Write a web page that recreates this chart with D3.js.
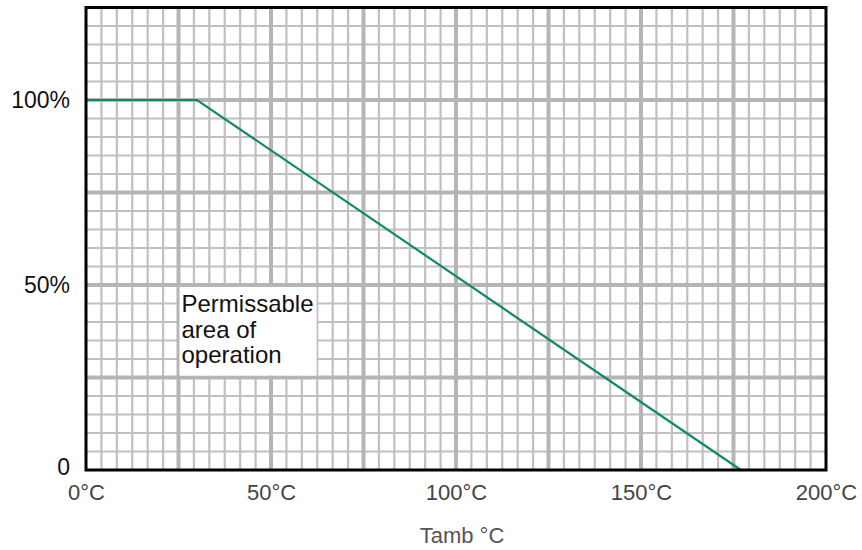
<!DOCTYPE html>
<html><head><meta charset="utf-8">
<script src="https://cdn.jsdelivr.net/npm/d3@7/dist/d3.min.js"></script>
<style>body{margin:0;background:#fff;} svg{display:block;font-family:"Liberation Sans",Arial,sans-serif;}</style>
</head><body>
<svg id="c" width="862" height="550"></svg>
<script>
const curveT = [0, 30, 177];          // °C
const curveP = [100, 100, 0];         // % of rated power
const xTicks = [0, 50, 100, 150, 200];
const xTickLabels = ["0°C", "50°C", "100°C", "150°C", "200°C"];
const yTicks = [0, 50, 100];
const yTickLabels = ["0", "50%", "100%"];
const xMajor = [25, 50, 75, 100, 125, 150, 175];
const yMajor = [25, 50, 75, 100];
const xMinorStep = 25 / 6;
const yMinorStep = 5;
const xTitle = "Tamb °C";
const noteLines = ["Permissable", "area of", "operation"];

const svg = d3.select("#c");
const x = d3.scaleLinear().domain([0, 200]).range([86, 826]);
const y = d3.scaleLinear().domain([0, 125]).range([470, 7.5]);

const xMinor = d3.range(0, 200 + 1e-6, xMinorStep).filter(v => v > 0 && v < 200);
const yMinor = d3.range(0, 125 + 1e-6, yMinorStep).filter(v => v > 0 && v < 125);

const g = svg.append("g");
g.selectAll(".vx").data(xMinor).join("line")
  .attr("x1", d => x(d)).attr("x2", d => x(d)).attr("y1", y(0)).attr("y2", y(125))
  .attr("stroke", "#c0c0c0").attr("stroke-width", 2.2);
g.selectAll(".hy").data(yMinor).join("line")
  .attr("y1", d => y(d)).attr("y2", d => y(d)).attr("x1", x(0)).attr("x2", x(200))
  .attr("stroke", "#c0c0c0").attr("stroke-width", 2.2);
g.selectAll(".vX").data(xMajor).join("line")
  .attr("x1", d => x(d)).attr("x2", d => x(d)).attr("y1", y(0)).attr("y2", y(125))
  .attr("stroke", "#b5b5b5").attr("stroke-width", 4);
g.selectAll(".hY").data(yMajor).join("line")
  .attr("y1", d => y(d)).attr("y2", d => y(d)).attr("x1", x(0)).attr("x2", x(200))
  .attr("stroke", "#b5b5b5").attr("stroke-width", 4);

// note box
const bx = x(25) + 1, by = y(50) + 2, bw = 137, bh = y(25) - y(50) - 4;
svg.append("rect").attr("x", bx).attr("y", by).attr("width", bw).attr("height", bh).attr("fill", "#fff");
svg.append("g").selectAll("text").data(noteLines).join("text")
  .attr("x", bx + 2).attr("y", (d, i) => by + 25 + i * 25.5)
  .attr("font-size", 24).attr("fill", "#111").text(d => d);

// curve
svg.append("path")
  .datum(curveT.map((t, i) => [t, curveP[i]]))
  .attr("d", d3.line().x(d => x(d[0])).y(d => y(d[1])))
  .attr("fill", "none").attr("stroke", "#13896a").attr("stroke-width", 2.2);

// frame
svg.append("rect").attr("x", x(0)).attr("y", y(125)).attr("width", x(200) - x(0)).attr("height", y(0) - y(125))
  .attr("fill", "none").attr("stroke", "#000").attr("stroke-width", 3);

// axes labels
const xa = d3.axisBottom(x).tickValues(xTicks).tickFormat((d, i) => xTickLabels[i]).tickSize(0).tickPadding(14);
const xg = svg.append("g").attr("transform", `translate(0,${y(0)})`).call(xa);
xg.select(".domain").remove();
xg.selectAll("text").attr("font-size", 22).attr("fill", "#444").attr("font-family", "Liberation Sans, Arial, sans-serif");

const ya = d3.axisLeft(y).tickValues(yTicks).tickFormat((d, i) => yTickLabels[i]).tickSize(0).tickPadding(16);
const yg = svg.append("g").attr("transform", `translate(${x(0)},0)`).call(ya);
yg.select(".domain").remove();
yg.selectAll("text").attr("font-size", 23).attr("fill", "#111").attr("font-family", "Liberation Sans, Arial, sans-serif");
yg.selectAll(".tick").filter(d => d === 0).select("text").attr("dy", "0.2em");

svg.append("text").attr("x", 462).attr("y", 543).attr("text-anchor", "middle")
  .attr("font-size", 22).attr("fill", "#555").text(xTitle);
</script>
</body></html>
